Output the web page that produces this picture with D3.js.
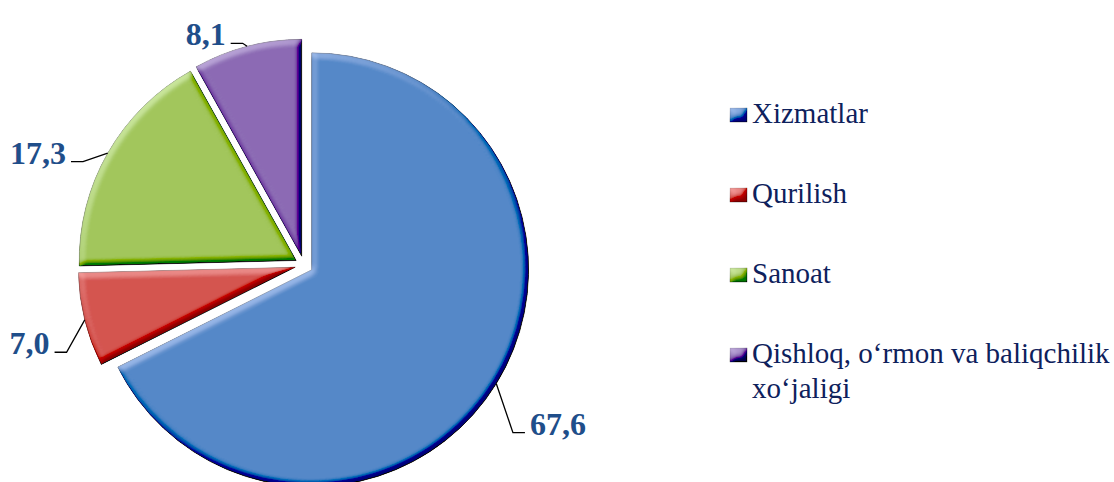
<!DOCTYPE html>
<html>
<head>
<meta charset="utf-8">
<script src="https://cdn.jsdelivr.net/npm/d3@7"></script>
<style>
  body { margin: 0; background: #fff; }
  svg { display: block; }
  .serif { font-family: "Liberation Serif", "Times New Roman", Tinos, serif; }
</style>
</head>
<body>
<svg id="chart" width="1114" height="482"></svg>
<script>
// data
var categories = ["Xizmatlar", "Qurilish", "Sanoat", "Qishloq, o\u2018rmon va baliqchilik xo\u2018jaligi"];
var legendLines = [["Xizmatlar"], ["Qurilish"], ["Sanoat"], ["Qishloq, o\u2018rmon va baliqchilik", "xo\u2018jaligi"]];
var values = [67.6, 7.0, 17.3, 8.1];
var valueLabels = ["67,6", "7,0", "17,3", "8,1"];
var colors = ["#5488c8", "#d4544f", "#a2c65c", "#8c6bb4"];

// leader elbow, polar from slice centre: extra radius, angle in degrees
var elbowDr = [42, 27, 18, 4];
var elbowDeg = [129, 249.6, 294.9, 344.5];

var svg = d3.select("#chart");
var cx = 304, cy = 265, radius = 217, explode = 9;

var defs = svg.append("defs");
var f = defs.append("filter").attr("id", "bevel")
  .attr("x", "-10%").attr("y", "-10%").attr("width", "120%").attr("height", "120%");
f.append("feGaussianBlur").attr("in", "SourceAlpha").attr("stdDeviation", 3).attr("result", "blur");
f.append("feDiffuseLighting").attr("in", "blur").attr("surfaceScale", 5)
  .attr("diffuseConstant", 1).attr("lighting-color", "#fff").attr("result", "light")
  .append("feDistantLight").attr("azimuth", 235).attr("elevation", 40);
f.append("feComposite").attr("in", "SourceGraphic").attr("in2", "light")
  .attr("operator", "arithmetic").attr("k1", 0).attr("k2", 1).attr("k3", 0.6).attr("k4", -0.386)
  .attr("result", "lit");
f.append("feComposite").attr("in", "lit").attr("in2", "SourceAlpha").attr("operator", "in");

var pie = d3.pie().sort(null).value(function(d) { return d; });
var arcs = pie(values);
var arc = d3.arc().innerRadius(0).outerRadius(radius);

function polar(r, a) { return [r * Math.sin(a), -r * Math.cos(a)]; }

var g = svg.append("g").attr("transform", "translate(" + cx + "," + cy + ")");

arcs.forEach(function(d, i) {
  var mid = (d.startAngle + d.endAngle) / 2;
  var off = polar(explode, mid);
  var sg = g.append("g").attr("transform", "translate(" + off[0] + "," + off[1] + ")");
  sg.append("path")
    .attr("d", arc(d))
    .attr("fill", colors[i])
    .attr("stroke", d3.color(colors[i]).darker(1.3))
    .attr("stroke-width", 0.8)
    .attr("filter", "url(#bevel)");

  // leader line
  var p0 = polar(radius, mid);
  var p1 = polar(radius + elbowDr[i], elbowDeg[i] * Math.PI / 180);
  var right = p1[0] > 0;
  var p2 = [p1[0] + (right ? 12 : -12), p1[1]];
  sg.append("path")
    .attr("d", d3.line()([p0, p1, p2]))
    .attr("fill", "none")
    .attr("stroke", "#000")
    .attr("stroke-width", 1.3);
  sg.append("text")
    .attr("class", "serif")
    .attr("x", p2[0] + (right ? 5 : -5))
    .attr("y", p1[1] + 2)
    .attr("text-anchor", right ? "start" : "end")
    .style("font-weight", "bold")
    .style("font-size", "32px")
    .attr("fill", "#1f4e8a")
    .text(valueLabels[i]);
});

// legend
var legY = d3.scalePoint().domain(categories).range([123, 363]);
var lg = svg.append("g");
categories.forEach(function(c, i) {
  var y = legY(c);
  lg.append("rect")
    .attr("x", 730).attr("y", y - 15).attr("width", 17).attr("height", 14)
    .attr("fill", colors[i])
    .attr("stroke", d3.color(colors[i]).darker(1))
    .attr("stroke-width", 0.6)
    .attr("filter", "url(#bevel)");
  var t = lg.append("text")
    .attr("class", "serif")
    .attr("x", 752).attr("y", y)
    .style("font-size", "29px")
    .attr("fill", "#0e215c");
  legendLines[i].forEach(function(line, j) {
    t.append("tspan").attr("x", 752).attr("dy", j === 0 ? 0 : 35).text(line);
  });
});
</script>
</body>
</html>
